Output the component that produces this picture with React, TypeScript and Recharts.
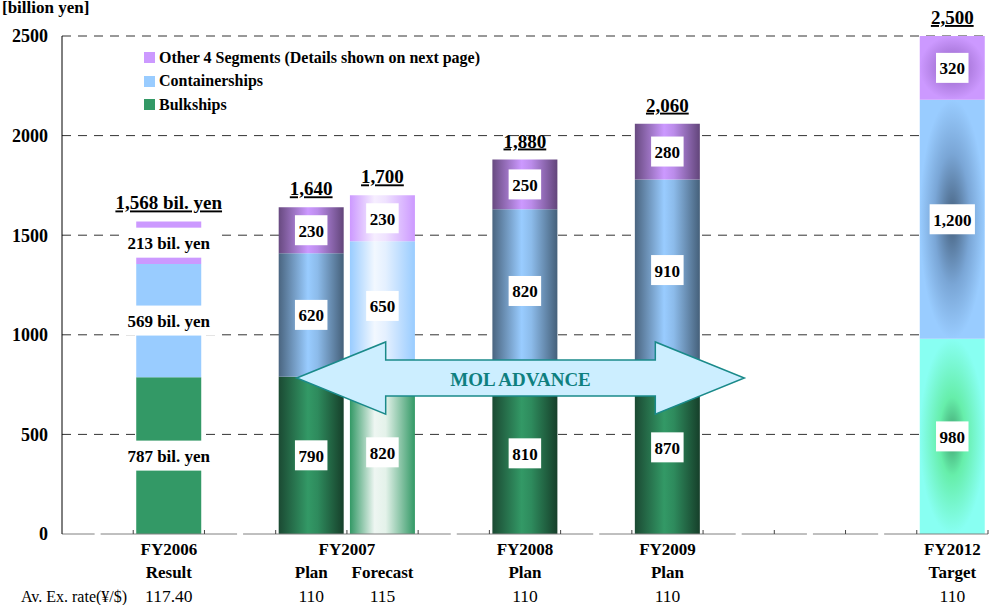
import React from 'react';
import {
    BarChart,
    Bar,
    XAxis,
    YAxis,
    CartesianGrid,
    Cell,
    LabelList,
    Legend,
    ReferenceArea,
} from 'recharts';

// 13 evenly spaced slots, the empty ones keep the gaps between the fiscal years
const categories = ['c0', 'FY2006 Result', 'c2', 'FY2007 Plan', 'FY2007 Forecast', 'c5', 'FY2008 Plan', 'c7', 'FY2009 Plan', 'c9', 'c10', 'c11', 'FY2012 Target'];
const bulkships = [null, 787, null, 790, 820, null, 810, null, 870, null, null, null, 980];
const containerships = [null, 569, null, 620, 650, null, 820, null, 910, null, null, null, 1200];
const otherSegments = [null, 213, null, 230, 230, null, 250, null, 280, null, null, null, 320];
const totals = [null, 1568, null, 1640, 1700, null, 1880, null, 2060, null, null, null, 2500];
const yearLabels = ['', 'FY2006', '', 'FY2007', 'FY2007', '', 'FY2008', '', 'FY2009', '', '', '', 'FY2012'];
const subLabels = ['', 'Result', '', 'Plan', 'Forecast', '', 'Plan', '', 'Plan', '', '', '', 'Target'];
const exRates = ['', '117.40', '', '110', '115', '', '110', '', '110', '', '', '', '110'];
const yTicks = [0, 500, 1000, 1500, 2000, 2500];

const FONT = '"Liberation Serif", "Times New Roman", serif';
const BAND_HALF = 926 / 13 / 2;

const series = [
    { key: 'bulk', name: 'Bulkships', color: '#339966' },
    { key: 'container', name: 'Containerships', color: '#99ccff' },
    { key: 'other', name: 'Other 4 Segments (Details shown on next page)', color: '#cc99ff' },
];

const barLook: Record<string, string> = {
    'FY2006 Result': 'flat',
    'FY2007 Plan': 'cyl',
    'FY2007 Forecast': 'fade',
    'FY2008 Plan': 'cyl',
    'FY2009 Plan': 'cyl',
    'FY2012 Target': 'box',
};

const data = categories.map((key, i) => ({
    key,
    bulk: bulkships[i],
    container: containerships[i],
    other: otherSegments[i],
    total: totals[i],
}));

const fmt = (v: number) => v.toLocaleString('en-US');

function fillFor(cat: string, s: { key: string; color: string }) {
    const look = barLook[cat];
    if (!look || look === 'flat') return s.color;
    return `url(#${look}-${s.key})`;
}

// label value carries the category so the FY2006 "bil. yen" style can be picked
const labelOf = (field: string) => (row: any) =>
    row && row[field] != null ? { v: row[field], cat: row.key } : null;

function SegmentLabel(props: any) {
    const { x, y, width, height, value } = props;
    if (!value || typeof value !== 'object') return null;
    const flat = barLook[value.cat] === 'flat';
    const num = fmt(value.v);
    const text = flat ? `${num} bil. yen` : num;
    const cx = x + width / 2;
    const cy = y + height / 2;
    let w = 7;
    for (const ch of num) w += ch === ',' ? 4.3 : 8.5;
    if (flat) w = 98;
    return (
        <g>
            <rect x={cx - w / 2} y={cy - 15} width={w} height={30} fill="#fff" />
            <text x={cx} y={cy + 1} textAnchor="middle" dominantBaseline="central" fontFamily={FONT} fontWeight="bold" fontSize={17} fill="#000">
                {text}
            </text>
        </g>
    );
}

function TotalLabel(props: any) {
    const { x, y, width, value } = props;
    if (!value || typeof value !== 'object') return null;
    const text = barLook[value.cat] === 'flat' ? `${fmt(value.v)} bil. yen` : fmt(value.v);
    return (
        <text x={x + width / 2} y={y - 12} textAnchor="middle" fontFamily={FONT} fontWeight="bold" fontSize={19} fill="#000" textDecoration="underline">
            {text}
        </text>
    );
}

function CategoryTick(props: any) {
    const { x, y, payload } = props;
    const i = categories.indexOf(payload.value);
    const empty = !barLook[categories[i]];
    let yearX = x;
    const showYear = yearLabels[i] && yearLabels[i - 1] !== yearLabels[i];
    if (yearLabels[i] && yearLabels[i + 1] === yearLabels[i]) yearX = x + BAND_HALF;
    return (
        <g fontFamily={FONT} fill="#000">
            {empty && <rect x={x - 3} y={y - 1.5} width={6} height={3} fill="#fff" />}
            <line x1={x + BAND_HALF} x2={x + BAND_HALF} y1={y - 4} y2={y} stroke="#444" />
            {showYear && (
                <text x={yearX} y={y + 15} textAnchor="middle" dominantBaseline="central" fontWeight="bold" fontSize={17}>
                    {yearLabels[i]}
                </text>
            )}
            <text x={x} y={y + 38} textAnchor="middle" dominantBaseline="central" fontWeight="bold" fontSize={17}>
                {subLabels[i]}
            </text>
            <text x={x} y={y + 62} textAnchor="middle" dominantBaseline="central" fontSize={17.5}>
                {exRates[i]}
            </text>
            {i === 0 && (
                <text x={x + 29.5} y={y + 62} textAnchor="end" dominantBaseline="central" fontSize={16}>
                    Av. Ex. rate(¥/$)
                </text>
            )}
        </g>
    );
}

function AdvanceArrow(props: any) {
    const { x, y, width, height } = props;
    const left = x + 21;
    const right = x + width - 30;
    const head = 89;
    const mid = y + height / 2;
    const sh = height / 4;
    const d = [
        `M${left},${mid}`,
        `L${left + head},${y}`,
        `L${left + head},${mid - sh}`,
        `L${right - head},${mid - sh}`,
        `L${right - head},${y}`,
        `L${right},${mid}`,
        `L${right - head},${y + height}`,
        `L${right - head},${mid + sh}`,
        `L${left + head},${mid + sh}`,
        `L${left + head},${y + height}`,
        'Z',
    ].join(' ');
    return (
        <g>
            <path d={d} fill="#cceeff" stroke="#1a8a8a" strokeWidth={1.5} />
            <text x={(left + right) / 2} y={mid + 1} textAnchor="middle" dominantBaseline="central" fontFamily={FONT} fontWeight="bold" fontSize={19} fill="#0f7f7f">
                MOL ADVANCE
            </text>
        </g>
    );
}

function LegendBox() {
    return (
        <div style={{ fontFamily: FONT, fontWeight: 'bold', fontSize: 16, color: '#000' }}>
            {[...series].reverse().map((s) => (
                <div key={s.key} style={{ display: 'flex', alignItems: 'center', height: 23.5 }}>
                    <span style={{ width: 11, height: 11, background: s.color, marginRight: 4 }} />
                    {s.name}
                </div>
            ))}
        </div>
    );
}

export default function App() {
    return (
        <div style={{ position: 'absolute', left: 0, top: 0, width: 1004, height: 605, background: '#fff', fontFamily: FONT }}>
            <div style={{ position: 'absolute', left: 2, top: 0, fontWeight: 'bold', fontSize: 17, lineHeight: '16px' }}>
                [billion yen]
            </div>
            <BarChart width={1004} height={605} data={data} margin={{ top: 36, right: 16, left: 0, bottom: 0 }} barCategoryGap={3}>
                <defs>
                    <linearGradient id="cyl-bulk" x1="0" y1="0" x2="1" y2="0">
                        <stop offset="0" stopColor="#1b4a33" />
                        <stop offset="0.45" stopColor="#339966" />
                        <stop offset="0.6" stopColor="#2e8b5d" />
                        <stop offset="1" stopColor="#163f2a" />
                    </linearGradient>
                    <linearGradient id="cyl-container" x1="0" y1="0" x2="1" y2="0">
                        <stop offset="0" stopColor="#4a6580" />
                        <stop offset="0.45" stopColor="#99ccff" />
                        <stop offset="0.6" stopColor="#8cbbea" />
                        <stop offset="1" stopColor="#45607a" />
                    </linearGradient>
                    <linearGradient id="cyl-other" x1="0" y1="0" x2="1" y2="0">
                        <stop offset="0" stopColor="#684a80" />
                        <stop offset="0.45" stopColor="#cc99ff" />
                        <stop offset="0.6" stopColor="#bb8cea" />
                        <stop offset="1" stopColor="#62457a" />
                    </linearGradient>
                    <linearGradient id="fade-bulk" x1="0" y1="0" x2="1" y2="0">
                        <stop offset="0" stopColor="#339966" />
                        <stop offset="0.38" stopColor="#eef6f2" />
                        <stop offset="0.55" stopColor="#e4f2ea" />
                        <stop offset="1" stopColor="#339966" />
                    </linearGradient>
                    <linearGradient id="fade-container" x1="0" y1="0" x2="1" y2="0">
                        <stop offset="0" stopColor="#99ccff" />
                        <stop offset="0.38" stopColor="#f2f8ff" />
                        <stop offset="0.55" stopColor="#e4f0ff" />
                        <stop offset="1" stopColor="#99ccff" />
                    </linearGradient>
                    <linearGradient id="fade-other" x1="0" y1="0" x2="1" y2="0">
                        <stop offset="0" stopColor="#cc99ff" />
                        <stop offset="0.38" stopColor="#f6eeff" />
                        <stop offset="0.55" stopColor="#efe2ff" />
                        <stop offset="1" stopColor="#cc99ff" />
                    </linearGradient>
                    <radialGradient id="box-bulk" cx="0.5" cy="0.5" r="0.5">
                        <stop offset="0" stopColor="#3f9f6f" />
                        <stop offset="0.4" stopColor="#66eeaa" />
                        <stop offset="1" stopColor="#88fff2" />
                    </radialGradient>
                    <radialGradient id="box-container" cx="0.5" cy="0.5" r="0.5">
                        <stop offset="0" stopColor="#45607d" />
                        <stop offset="0.55" stopColor="#7aa6d6" />
                        <stop offset="1" stopColor="#99ccff" />
                    </radialGradient>
                    <radialGradient id="box-other" cx="0.5" cy="0.5" r="0.5">
                        <stop offset="0" stopColor="#9060c0" />
                        <stop offset="1" stopColor="#cc99ff" />
                    </radialGradient>
                </defs>
                <CartesianGrid vertical={false} horizontalValues={[500, 1000, 1500, 2000, 2500]} stroke="#333" strokeDasharray="9 7" />
                <XAxis
                    dataKey="key"
                    interval={0}
                    height={71}
                    tickSize={0}
                    tickMargin={0}
                    tickLine={false}
                    axisLine={{ stroke: '#808080' }}
                    tick={<CategoryTick />}
                />
                <YAxis
                    domain={[0, 2500]}
                    ticks={yTicks}
                    width={62}
                    tickLine={false}
                    tickMargin={8}
                    axisLine={{ stroke: '#000' }}
                    tick={{ fontFamily: FONT, fontWeight: 'bold', fontSize: 18, fill: '#000' }}
                />
                {series.map((s) => (
                    <Bar key={s.key} dataKey={s.key} stackId="fy" isAnimationActive={false}>
                        {data.map((row) => (
                            <Cell key={row.key} fill={fillFor(row.key, s)} />
                        ))}
                        <LabelList dataKey={labelOf(s.key)} content={<SegmentLabel />} />
                        {s.key === 'other' && <LabelList dataKey={labelOf('total')} content={<TotalLabel />} />}
                    </Bar>
                ))}
                <Legend
                    layout="vertical"
                    align="center"
                    verticalAlign="middle"
                    wrapperStyle={{ left: 144, top: 46, width: 'auto' }}
                    content={<LegendBox />}
                />
                <ReferenceArea
                    x1="FY2007 Plan"
                    x2="c9"
                    y1={602}
                    y2={964}
                    ifOverflow="visible"
                    shape={<AdvanceArrow />}
                    zIndex={1000}
                />
            </BarChart>
        </div>
    );
}
